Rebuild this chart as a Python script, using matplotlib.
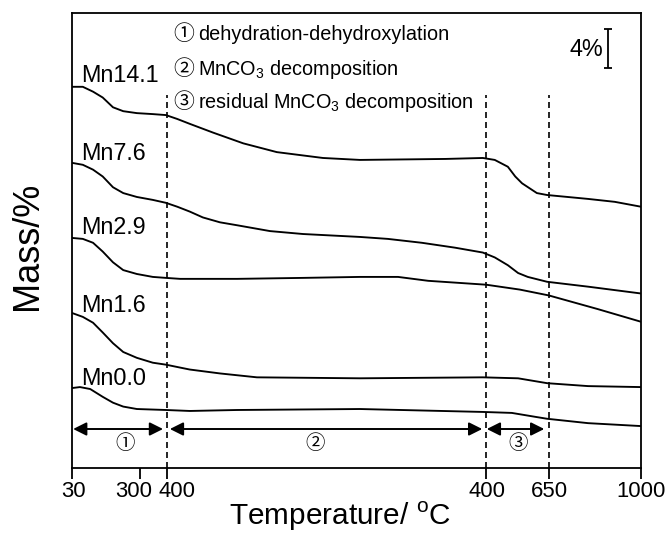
import matplotlib
matplotlib.use("Agg")
import matplotlib.pyplot as plt
import matplotlib.transforms as mtransforms
from matplotlib import font_manager

# ---------------- data (x: position along the segmented axis, 0-100; y: mass %, offset) -------------
x_mn141 = [0, 1.9, 3.7, 5.4, 7.2, 9.0, 11.4, 14.2, 16.5, 18.5, 20.7, 24.8, 30.1, 36.0, 44.1, 50.6, 65.6,
           72.2, 74.3, 76.6, 77.9, 79.1, 81.7, 83.5, 90.7, 95.4, 100]
y_mn141 = [39.1, 39.1, 38.6, 38.0, 37.0, 36.6, 36.4, 36.3, 36.2, 35.8, 35.3, 34.4, 33.3, 32.4, 31.8, 31.6, 31.7,
           31.8, 31.6, 30.9, 29.9, 29.2, 28.2, 28.0, 27.6, 27.3, 26.8]

x_mn76 = [0, 1.9, 3.7, 5.4, 7.2, 9.0, 11.4, 14.2, 16.5, 18.5, 20.7, 23.0, 26.0, 29.0, 34.8, 40.6, 50.6, 55.5,
          61.5, 67.3, 72.2, 74.3, 76.6, 78.4, 80.1, 83.5, 90.7, 100]
y_mn76 = [31.3, 31.1, 30.6, 29.9, 28.8, 28.2, 27.8, 27.5, 27.2, 26.8, 26.3, 25.7, 25.2, 24.9, 24.3, 24.0, 23.7,
          23.5, 23.1, 22.6, 22.1, 21.6, 20.8, 20.0, 19.6, 19.1, 18.6, 17.9]

x_mn29 = [0, 1.9, 3.7, 5.4, 7.2, 9.0, 11.4, 14.2, 16.5, 19.0, 29.0, 40.6, 50.6, 57.3, 62.6, 72.8, 78.7,
          83.8, 92.4, 100]
y_mn29 = [23.6, 23.5, 23.1, 22.2, 21.1, 20.3, 19.9, 19.6, 19.5, 19.4, 19.4, 19.5, 19.6, 19.6, 19.2, 18.8, 18.3,
          17.7, 16.3, 15.0]

x_mn16 = [0, 1.9, 3.7, 5.4, 7.2, 9.0, 11.4, 14.2, 16.5, 19.0, 20.7, 26.0, 32.5, 50.6, 72.2, 78.4, 83.5,
          90.7, 100]
y_mn16 = [15.9, 15.5, 14.9, 13.9, 12.8, 11.9, 11.3, 10.8, 10.6, 10.3, 10.1, 9.7, 9.3, 9.2, 9.3, 9.2, 8.7,
          8.4, 8.3]

x_mn00 = [0, 1.4, 3.2, 5.4, 7.2, 9.0, 11.4, 16.5, 20.7, 29.0, 50.6, 72.2, 77.3, 81.4, 83.5, 90.7, 100]
y_mn00 = [8.2, 8.3, 8.1, 7.3, 6.7, 6.3, 6.05, 5.95, 5.85, 5.95, 6.05, 5.75, 5.65, 5.25, 5.05, 4.6, 4.3]

series_x = [x_mn141, x_mn76, x_mn29, x_mn16, x_mn00]
series_y = [y_mn141, y_mn76, y_mn29, y_mn16, y_mn00]
series_names = ["Mn14.1", "Mn7.6", "Mn2.9", "Mn1.6", "Mn0.0"]
name_pos_y = [39.6, 31.6, 24.0, 16.0, 8.5]

tick_pos = [0, 11.95, 16.7, 72.8, 83.8, 100]
tick_labels = ["30", "300", "400", "400", "650", "1000"]
tick_label_shift_px = [2, -6, 10, 1, 1, 0]
boundaries = [16.7, 72.8, 83.8]

stage_arrows = [(0.2, 16.0), (17.2, 72.1), (72.9, 83.0)]
stage_labels = ["\u2460", "\u2461", "\u2462"]
stage_label_x = [9.3, 42.7, 78.4]

notes_sym = ["\u2460", "\u2461", "\u2462"]
notes_txt = ["dehydration-dehydroxylation", "MnCO$_\\mathregular{3}$ decomposition",
             "residual MnCO$_\\mathregular{3}$ decomposition"]
notes_y = [43.85, 40.36, 36.92]

# ---------------- fonts ----------------
names = {f.name for f in font_manager.fontManager.ttflist}
if "Liberation Sans Narrow" in names:
    NARROW, k = "Liberation Sans Narrow", 1.0
else:
    NARROW, k = "Liberation Sans", 0.84
CJK = "Noto Sans CJK JP"
plt.rcParams["font.family"] = [NARROW, "DejaVu Sans"]
plt.rcParams["mathtext.fontset"] = "custom"
plt.rcParams["mathtext.rm"] = NARROW

fig = plt.figure(figsize=(6.66, 5.36), dpi=100)
ax = fig.add_axes([72 / 666, 68 / 536, 569 / 666, 455 / 536])

for xs, ys in zip(series_x, series_y):
    ax.plot(xs, ys, color="black", lw=1.35, solid_joinstyle="round")

for xs, name, ny in zip(series_x, series_names, name_pos_y):
    ax.text(1.6, ny, name, fontsize=20 * k, family=NARROW, ha="left", va="baseline")

for b in boundaries:
    ax.plot([b, b], [0, 38.3], color="black", lw=1.2, ls=(0, (3.6, 2.4)))

for (a0, a1), lab, lx in zip(stage_arrows, stage_labels, stage_label_x):
    ax.annotate("", xy=(a1, 4.0), xytext=(a0, 4.0),
                arrowprops=dict(arrowstyle="<|-|>", color="black", lw=1.4,
                                mutation_scale=20, shrinkA=0, shrinkB=0))
    ax.text(lx, 2.5, lab, fontsize=14, family=CJK, ha="center", va="center")

for sym, txt, ny in zip(notes_sym, notes_txt, notes_y):
    ax.text(17.75, ny, sym, fontsize=15, family=CJK, ha="left", va="baseline")
    ax.text(22.1, ny, txt, fontsize=17 * k, family=NARROW, ha="left", va="baseline")

# 4 % scale bar
ax.text(93.3, 42.26, "4%", fontsize=20 * k, family=NARROW, ha="right", va="baseline")
ax.errorbar([94.2], [43.0], yerr=[2.0], color="black", lw=1.3, capsize=3.2, capthick=1.3)

ax.set_xlim(0, 100)
ax.set_ylim(0, 46.67)
ax.set_yticks([])
ax.set_xticks(tick_pos)
ax.set_xticklabels(tick_labels, fontsize=19 * k, family=NARROW)
ax.tick_params(axis="x", direction="out", length=8, width=1.3, pad=1.5)
for lab, dx in zip(ax.get_xticklabels(), tick_label_shift_px):
    lab.set_transform(lab.get_transform() +
                      mtransforms.ScaledTranslation(dx / 100, 0, fig.dpi_scale_trans))
for s in ax.spines.values():
    s.set_linewidth(1.3)

ax.set_xlabel("Temperature/ $^\\mathregular{o}$C", fontsize=25.5 * k, family=NARROW)
ax.xaxis.set_label_coords(268 / 569, -0.07)
ax.xaxis.label.set_va("top")
ax.set_ylabel("Mass/%", fontsize=26, family="Liberation Sans")
ax.yaxis.set_label_coords(-0.047, 0.488)

fig.savefig("out.png", dpi=100)
